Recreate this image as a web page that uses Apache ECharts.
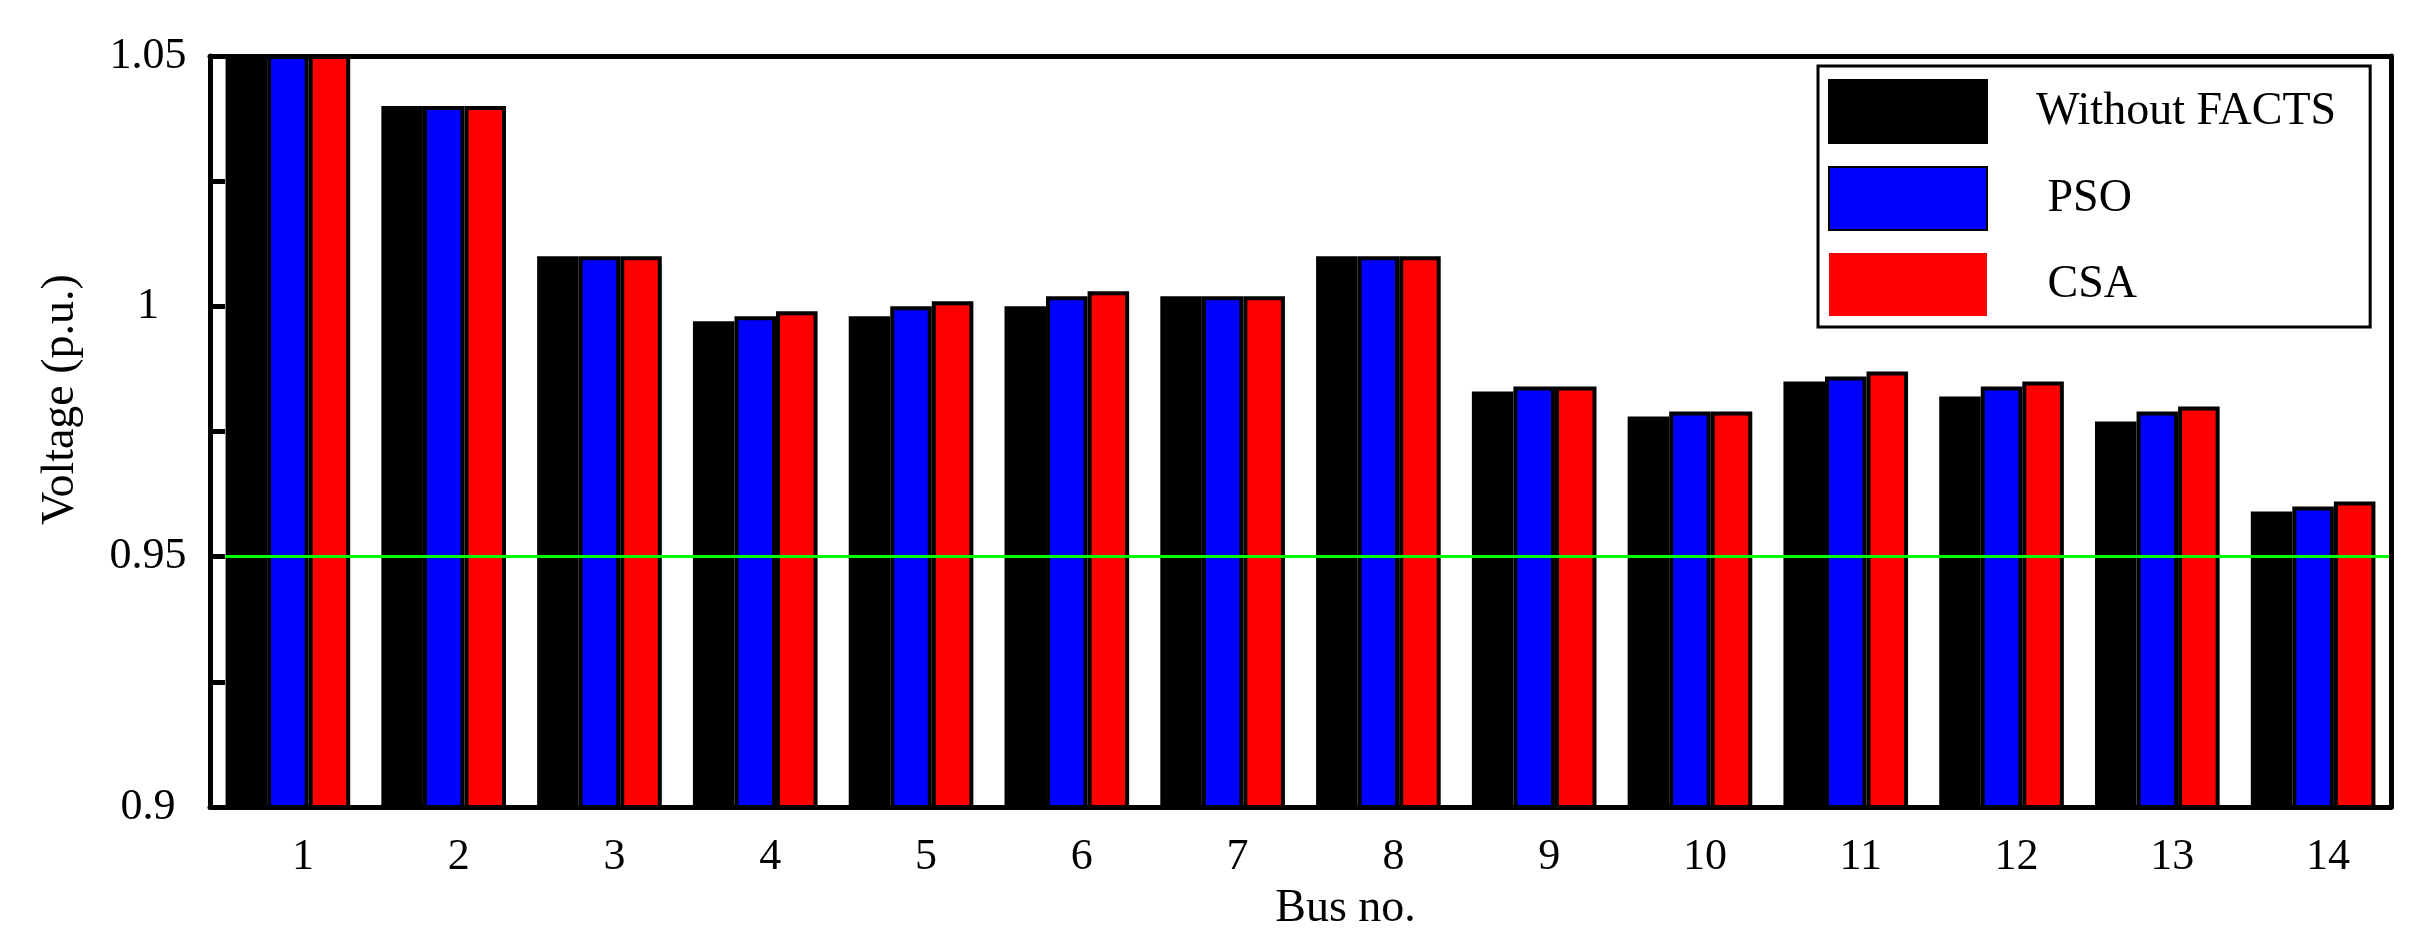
<!DOCTYPE html>
<html>
<head>
<meta charset="utf-8">
<script src="https://cdn.jsdelivr.net/npm/echarts@6/dist/echarts.min.js"></script>
<style>
  html, body { margin: 0; padding: 0; background: #ffffff; }
  #chart { width: 2414px; height: 947px; }
</style>
</head>
<body>
<div id="chart"></div>
<script>
// bus voltages
const buses = ['1', '2', '3', '4', '5', '6', '7', '8', '9', '10', '11', '12', '13', '14'];
const withoutFacts = [1.06, 1.04, 1.01, 0.997, 0.998, 1.000, 1.002, 1.010, 0.983, 0.978, 0.985, 0.982, 0.977, 0.959];
const pso = [1.06, 1.04, 1.01, 0.998, 1.000, 1.002, 1.002, 1.010, 0.984, 0.979, 0.986, 0.984, 0.979, 0.960];
const csa = [1.06, 1.04, 1.01, 0.999, 1.001, 1.003, 1.002, 1.010, 0.984, 0.979, 0.987, 0.985, 0.980, 0.961];
const yTickValues = [0.9, 0.95, 1, 1.05];
const yTickLabels = ['0.9', '0.95', '1', '1.05'];
const voltageLimit = 0.95;

const serif = '"Liberation Serif", "Times New Roman", serif';

const chart = echarts.init(document.getElementById('chart'), null, { renderer: 'canvas' });

function barSeries(name, color, values) {
  return {
    name: name,
    type: 'bar',
    data: values,
    barGap: '0%',
    barCategoryGap: '20%',
    itemStyle: { color: color, borderColor: '#000000', borderWidth: 4 },
    emphasis: { disabled: true }
  };
}

const series = [
  barSeries('Without FACTS', '#000000', withoutFacts),
  barSeries('PSO', '#0000ff', pso),
  barSeries('CSA', '#ff0000', csa)
];
// green 0.95 p.u. limit line
series[2].markLine = {
  silent: true,
  symbol: 'none',
  label: { show: false },
  lineStyle: { color: '#00ff00', width: 3, type: 'solid' },
  data: [{ yAxis: voltageLimit }]
};

const option = {
  backgroundColor: '#ffffff',
  animation: false,
  textStyle: { fontFamily: serif, color: '#000000' },
  grid: { left: 210, right: 23, top: 56, bottom: 140 },
  legend: {
    orient: 'vertical',
    left: 1818,
    top: 66,
    padding: [13, 34, 11, 10],
    itemGap: 22,
    itemWidth: 158,
    itemHeight: 63,
    icon: 'rect',
    backgroundColor: '#ffffff',
    borderColor: '#000000',
    borderWidth: 3,
    z: 20,
    selectedMode: false,
    data: [
      { name: 'Without FACTS' },
      { name: 'PSO' },
      { name: 'CSA', itemStyle: { borderWidth: 0 } }
    ],
    formatter: function (name) {
      return name === 'Without FACTS' ? name : ' ' + name;
    },
    textStyle: { fontFamily: serif, fontSize: 46, color: '#000000', padding: [0, 0, 0, 44] }
  },
  xAxis: [
    {
      type: 'category',
      data: buses,
      position: 'bottom',
      z: 10,
      axisLine: { lineStyle: { color: '#000000', width: 5 } },
      axisTick: { inside: true, length: 20, alignWithLabel: true, interval: 0, lineStyle: { color: '#000000', width: 4 } },
      axisLabel: { interval: 0, fontFamily: serif, fontSize: 44, color: '#000000', margin: 28, padding: [0, 0, 0, 30] },
      name: 'Bus no.',
      nameLocation: 'middle',
      nameGap: 79,
      nameTextStyle: { fontFamily: serif, fontSize: 46, color: '#000000', padding: [0, 0, 0, 90] }
    },
    {
      type: 'category',
      data: buses,
      position: 'top',
      z: 10,
      axisLine: { lineStyle: { color: '#000000', width: 5 } },
      axisTick: { show: false },
      axisLabel: { show: false }
    }
  ],
  yAxis: [
    {
      type: 'value',
      min: 0.9,
      max: 1.05,
      interval: 0.025,
      z: 10,
      axisLine: { show: true, lineStyle: { color: '#000000', width: 5 } },
      axisTick: { show: true, inside: true, length: 15, lineStyle: { color: '#000000', width: 5 } },
      splitLine: { show: false },
      axisLabel: {
        fontFamily: serif,
        fontSize: 44,
        color: '#000000',
        align: 'center',
        margin: 62,
        padding: [0, 0, 12, 0],
        formatter: function (v) {
          for (let i = 0; i < yTickValues.length; i++) {
            if (Math.abs(v - yTickValues[i]) < 1e-6) return yTickLabels[i];
          }
          return '';
        }
      },
      name: 'Voltage (p.u.)',
      nameLocation: 'middle',
      nameRotate: 90,
      nameGap: 126,
      nameTextStyle: { fontFamily: serif, fontSize: 46, color: '#000000', padding: [0, 0, 0, 64] }
    },
    {
      type: 'value',
      min: 0.9,
      max: 1.05,
      position: 'right',
      z: 10,
      axisLine: { show: true, lineStyle: { color: '#000000', width: 5 } },
      axisTick: { show: false },
      axisLabel: { show: false },
      splitLine: { show: false }
    }
  ],
  series: series
};

chart.setOption(option);
</script>
</body>
</html>
